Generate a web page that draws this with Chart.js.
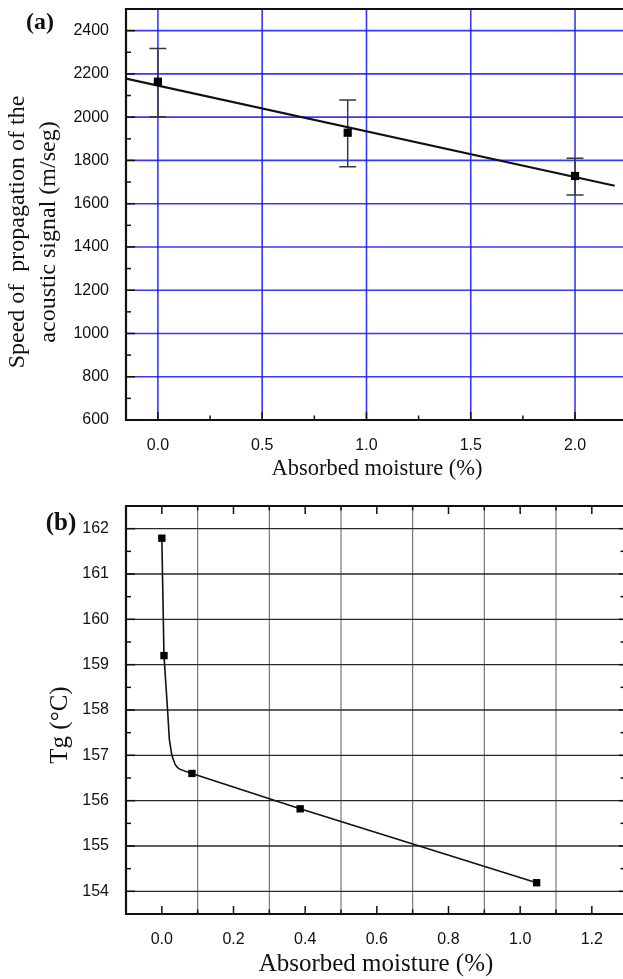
<!DOCTYPE html>
<html><head><meta charset="utf-8">
<script src="https://cdn.jsdelivr.net/npm/chart.js@4.4.1/dist/chart.umd.min.js"></script>
<style>
html,body{margin:0;padding:0;background:#fff;overflow:hidden;width:623px;height:979px}
#wa{position:absolute;left:0;top:0;width:623px;height:480px}
#wb{position:absolute;left:0;top:480px;width:623px;height:499px}
</style></head><body>
<div id="wa"><canvas id="ca"></canvas></div>
<div id="wb"><canvas id="cb"></canvas></div>
<script>
// ---------- Panel (a): speed of propagation ----------
const speedMoisture = [0.0, 0.91, 2.0];
const speedValues   = [2164, 1928, 1728];
const speedErrLow   = [2002, 1771, 1640];
const speedErrHigh  = [2317, 2079, 1810];
const speedFitMoisture = [-0.153, 2.19];
const speedFitValues   = [2178, 1683];
const speedXTicks = [0.0, 0.5, 1.0, 1.5, 2.0];
const speedXMinor = [0.25, 0.75, 1.25, 1.75];
const speedYTicks = [600, 800, 1000, 1200, 1400, 1600, 1800, 2000, 2200, 2400];
const speedYMinor = [700, 900, 1100, 1300, 1500, 1700, 1900, 2100, 2300];
const speedYGrid  = [800, 1000, 1200, 1400, 1600, 1800, 2000, 2200, 2400];

// ---------- Panel (b): Tg ----------
const tgMoisture = [0.0, 0.006, 0.084, 0.386, 1.046];
const tgValues   = [161.79, 159.2, 156.6, 155.82, 154.19];
const tgCurveMoisture = [0.0, 0.006, 0.016, 0.021, 0.028, 0.037, 0.044, 0.051, 0.084, 0.386, 1.046];
const tgCurveValues   = [161.79, 159.2, 158.0, 157.35, 157.0, 156.8, 156.73, 156.69, 156.6, 155.82, 154.19];
const tgXTicks = [0.0, 0.2, 0.4, 0.6, 0.8, 1.0, 1.2];
const tgXGrid  = [0.1, 0.3, 0.5, 0.7, 0.9, 1.1];
const tgYTicks = [154, 155, 156, 157, 158, 159, 160, 161, 162];
const tgYMinor = [154.5, 155.5, 156.5, 157.5, 158.5, 159.5, 160.5, 161.5];

const pts = (xs, ys) => xs.map((v, i) => ({x: v, y: ys[i]}));
const tickFont = {family: 'Liberation Sans', size: 16};
const serif = 'Liberation Serif';

function framePlugin(spec) {
  return {
    id: 'frame_' + spec.name,
    beforeDatasetsDraw(chart) {
      const {ctx, chartArea: a, scales: {x, y}} = chart;
      ctx.save();
      ctx.lineWidth = spec.gridXWidth; ctx.strokeStyle = spec.gridXColor;
      spec.gridX.forEach(v => { const px = x.getPixelForValue(v);
        ctx.beginPath(); ctx.moveTo(px, a.top); ctx.lineTo(px, a.bottom); ctx.stroke(); });
      ctx.lineWidth = spec.gridYWidth; ctx.strokeStyle = spec.gridYColor;
      spec.gridY.forEach(v => { const py = y.getPixelForValue(v);
        ctx.beginPath(); ctx.moveTo(a.left, py); ctx.lineTo(a.right, py); ctx.stroke(); });
      if (spec.err) {
        ctx.strokeStyle = '#3a3a3a'; ctx.lineWidth = 1.5;
        spec.err.xs.forEach((v, i) => {
          const px = x.getPixelForValue(v);
          const lo = y.getPixelForValue(spec.err.lo[i]);
          const hi = y.getPixelForValue(spec.err.hi[i]);
          ctx.beginPath();
          ctx.moveTo(px, lo); ctx.lineTo(px, hi);
          ctx.moveTo(px - 8.5, lo); ctx.lineTo(px + 8.5, lo);
          ctx.moveTo(px - 8.5, hi); ctx.lineTo(px + 8.5, hi);
          ctx.stroke();
        });
      }
      ctx.restore();
    },
    afterDatasetsDraw(chart) {
      const {ctx, chartArea: a, scales: {x, y}} = chart;
      ctx.save();
      ctx.strokeStyle = '#111'; ctx.lineWidth = 1.5;
      const tick = (x1, y1, x2, y2) => { ctx.beginPath(); ctx.moveTo(x1, y1); ctx.lineTo(x2, y2); ctx.stroke(); };
      spec.xMajor.forEach(v => { const px = x.getPixelForValue(v);
        tick(px, a.bottom, px, a.bottom - 8);
        if (spec.topTicks) tick(px, a.top, px, a.top + 8); });
      spec.xMinor.forEach(v => { const px = x.getPixelForValue(v);
        tick(px, a.bottom, px, a.bottom - 4.5);
        if (spec.topTicks) tick(px, a.top, px, a.top + 4.5); });
      spec.yMajor.forEach(v => { const py = y.getPixelForValue(v);
        tick(a.left, py, a.left + 9, py);
        if (spec.rightTicks) tick(a.right, py, a.right - 4, py); });
      spec.yMinor.forEach(v => { const py = y.getPixelForValue(v);
        tick(a.left, py, a.left + 5, py);
        if (spec.rightTicks) tick(a.right, py, a.right - 2.5, py); });
      ctx.lineWidth = 2.2; ctx.strokeStyle = '#111';
      ctx.beginPath();
      ctx.moveTo(a.right, a.top); ctx.lineTo(a.left, a.top);
      ctx.lineTo(a.left, a.bottom); ctx.lineTo(a.right, a.bottom);
      ctx.stroke();
      ctx.restore();
    },
    afterDraw(chart) {
      const ctx = chart.ctx;
      ctx.save();
      ctx.fillStyle = '#111';
      ctx.textAlign = 'center'; ctx.textBaseline = 'middle';
      ctx.font = 'bold ' + spec.panelSize + 'px "' + serif + '"';
      ctx.fillText(spec.panel, spec.panelX, spec.panelY);
      ctx.font = spec.xTitleSize + 'px "' + serif + '"';
      ctx.fillText(spec.xTitle, spec.xTitleX, spec.xTitleY);
      ctx.font = spec.yTitleSize + 'px "' + serif + '"';
      spec.yTitle.forEach((t, i) => {
        ctx.save();
        ctx.translate(spec.yTitleX[i], spec.yTitleY);
        ctx.rotate(-Math.PI / 2);
        ctx.fillText(t, 0, 0);
        ctx.restore();
      });
      ctx.restore();
    }
  };
}

function scaleX(min, max, ticks, h) {
  return {type: 'linear', min, max, grid: {display: false}, border: {display: false},
    afterBuildTicks: s => { s.ticks = ticks.map(v => ({value: v})); },
    ticks: {callback: v => Number(v).toFixed(1), padding: 8, font: tickFont, color: '#111', maxRotation: 0, autoSkip: false},
    afterFit: s => { s.height = h; s.paddingLeft = 0; s.paddingRight = 0; }};
}
function scaleY(min, max, ticks) {
  return {type: 'linear', min, max, grid: {display: false}, border: {display: false},
    afterBuildTicks: s => { s.ticks = ticks.map(v => ({value: v})); },
    ticks: {callback: v => String(v), padding: 9, font: tickFont, color: '#111', autoSkip: false},
    afterFit: s => { s.width = 126; s.paddingTop = 0; s.paddingBottom = 0; }};
}

new Chart(document.getElementById('ca'), {
  type: 'scatter',
  data: {datasets: [
    {data: pts(speedFitMoisture, speedFitValues), showLine: true, borderColor: '#111', borderWidth: 2.2, pointRadius: 0, order: 2},
    {data: pts(speedMoisture, speedValues), pointStyle: 'rect', pointRadius: 5.8, backgroundColor: '#000', borderColor: '#000', borderWidth: 0, order: 1}
  ]},
  options: {
    responsive: true, maintainAspectRatio: false, animation: false,
    layout: {autoPadding: false, padding: {top: 9, right: 0, left: 0, bottom: 0}},
    plugins: {legend: {display: false}, tooltip: {enabled: false}},
    scales: {x: scaleX(-0.153, 2.23, speedXTicks, 60), y: scaleY(600, 2500, speedYTicks)}
  },
  plugins: [framePlugin({
    name: 'a', gridX: speedXTicks, gridY: speedYGrid,
    gridXColor: 'rgba(20,20,255,0.85)', gridXWidth: 1.6, gridYColor: 'rgba(20,20,255,0.85)', gridYWidth: 1.6,
    err: {xs: speedMoisture, lo: speedErrLow, hi: speedErrHigh},
    xMajor: speedXTicks, xMinor: speedXMinor, yMajor: speedYTicks, yMinor: speedYMinor,
    topTicks: false, rightTicks: false,
    panel: '(a)', panelSize: 24, panelX: 40, panelY: 23,
    xTitle: 'Absorbed moisture (%)', xTitleSize: 22.5, xTitleX: 377, xTitleY: 469,
    yTitle: ['Speed of  propagation of the', 'acoustic signal (m/seg)'], yTitleSize: 24, yTitleX: [18, 49], yTitleY: 232
  })]
});

new Chart(document.getElementById('cb'), {
  type: 'scatter',
  data: {datasets: [
    {data: pts(tgCurveMoisture, tgCurveValues), showLine: true, borderColor: '#111', borderWidth: 1.6, pointRadius: 0, tension: 0, order: 2},
    {data: pts(tgMoisture, tgValues), pointStyle: 'rect', pointRadius: 5.2, backgroundColor: '#000', borderColor: '#000', borderWidth: 0, order: 1}
  ]},
  options: {
    responsive: true, maintainAspectRatio: false, animation: false,
    layout: {autoPadding: false, padding: {top: 26, right: 0, left: 0, bottom: 0}},
    plugins: {legend: {display: false}, tooltip: {enabled: false}},
    scales: {x: scaleX(-0.1, 1.287, tgXTicks, 65), y: scaleY(153.5, 162.5, tgYTicks)}
  },
  plugins: [framePlugin({
    name: 'b', gridX: tgXGrid, gridY: tgYTicks,
    gridXColor: '#6a6a6a', gridXWidth: 1.1, gridYColor: '#2a2a2a', gridYWidth: 1.3,
    err: null,
    xMajor: tgXTicks, xMinor: tgXGrid, yMajor: tgYTicks, yMinor: tgYMinor,
    topTicks: true, rightTicks: true,
    panel: '(b)', panelSize: 25, panelX: 61, panelY: 44,
    xTitle: 'Absorbed moisture (%)', xTitleSize: 25, xTitleX: 376, xTitleY: 484,
    yTitle: ['Tg (°C)'], yTitleSize: 25, yTitleX: [60], yTitleY: 245
  })]
});
</script>
</body></html>
